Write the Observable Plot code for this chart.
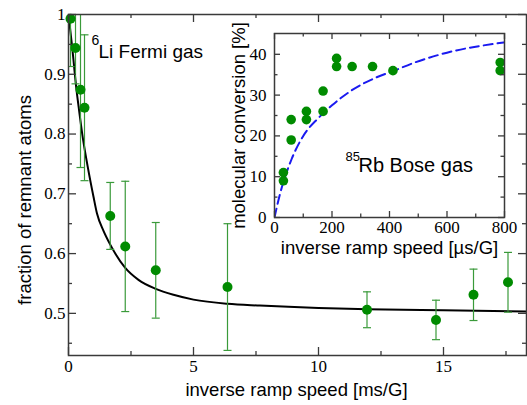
<!DOCTYPE html>
<html><head><meta charset="utf-8">
<script src="https://cdn.jsdelivr.net/npm/d3@7"></script>
<script src="https://cdn.jsdelivr.net/npm/@observablehq/plot@0.6"></script>
<style>
body{margin:0;background:#fff}
#wrap{position:relative;width:527px;height:405px}
#inset{position:absolute;left:220px;top:0}
</style>
</head><body>
<div id="wrap"><div id="main"></div><div id="inset"></div></div>
<script>
// ---- 6Li Fermi gas: fraction of remnant atoms vs inverse ramp speed [ms/G]
const liX   = [0.08, 0.28, 0.48, 0.64, 1.67, 2.27, 3.49, 6.36, 11.94, 14.7, 16.2, 17.58];
const liY   = [0.993, 0.944, 0.874, 0.844, 0.663, 0.612, 0.572, 0.544, 0.506, 0.489, 0.531, 0.552];
const liErr = [0.08, 0.06, 0.13, 0.122, 0.056, 0.109, 0.08, 0.106, 0.03, 0.033, 0.043, 0.05];
// fitted curve (black)
const fitX = [0, 0.15, 0.32, 0.41, 0.55, 0.77, 1.0, 1.14, 1.4, 1.67, 2.27, 2.8, 3.49, 4.2, 5.0, 6.36, 7.65, 10, 11.94, 15, 18.33];
const fitY = [1.0, 0.944, 0.874, 0.844, 0.80, 0.745, 0.695, 0.667, 0.638, 0.615, 0.576, 0.556, 0.541, 0.531, 0.523, 0.516, 0.513, 0.509, 0.507, 0.505, 0.503];

// ---- 85Rb Bose gas (inset): molecular conversion [%] vs inverse ramp speed [us/G]
const rbX = [31, 31, 58, 58, 111, 111, 169, 169, 216, 216, 270, 341, 412, 785, 785];
const rbY = [11, 9, 24, 19, 26, 24, 31, 26, 39, 37, 37, 37, 36, 38, 36];
// dashed theory curve (blue)
const rbFitX = [0, 20, 31, 60, 101, 153, 200, 269, 350, 420, 484, 600, 797];
const rbFitY = [0, 6.0, 8.7, 14.4, 20.1, 24.4, 27.5, 31.2, 34.2, 36.1, 37.9, 40.4, 42.9];

// ticks
const xMajor = [0, 5, 10, 15];
const xMinor = [2.5, 7.5, 12.5, 17.5];
const yMajor = [0.5, 0.6, 0.7, 0.8, 0.9, 1];
const yMinor = [0.45, 0.55, 0.65, 0.75, 0.85, 0.95];
const ixMajor = [0, 200, 400, 600, 800];
const ixMinor = [100, 300, 500, 700];
const iyMajor = [0, 10, 20, 30, 40];
const iyMinor = [5, 15, 25, 35];

const axisColor = "#3a3a3a";
const green = "#008b00", errGreen = "#3a9a3a", blue = "#1a1af0";
const sans = "Liberation Sans", serif = "Liberation Serif";
const capSymbol = {draw(ctx, size) { const r = Math.sqrt(size / Math.PI); ctx.moveTo(-r, 0); ctx.lineTo(r, 0); }};

const li = liX.map((x, i) => ({x, y: liY[i], e: liErr[i]}));
const liFit = fitX.map((x, i) => ({x, y: fitY[i]}));
const rb = rbX.map((x, i) => ({x, y: rbY[i]}));
const rbFit = rbFitX.map((x, i) => ({x, y: rbFitY[i]}));

const mW = 527, mH = 405, mL = 68, mR = 1, mT = 14, mB = 50;
const fW = mW - mL - mR, fH = mH - mT - mB;
const tk = {stroke: axisColor, strokeWidth: 1.3};

const main = Plot.plot({
  width: mW, height: mH, marginLeft: mL, marginRight: mR, marginTop: mT, marginBottom: mB,
  x: {domain: [0, 18.32]},
  y: {domain: [0.4295, 1.0]},
  style: {fontFamily: serif, fontSize: "17px", background: "white", color: "black"},
  marks: [
    Plot.line(liFit, {x: "x", y: "y", stroke: "black", strokeWidth: 2, curve: "monotone-x", clip: true}),
    Plot.ruleX(li, {x: "x", y1: d => d.y - d.e, y2: d => d.y + d.e, stroke: errGreen, strokeWidth: 1.2, clip: true}),
    Plot.dot(li, {x: "x", y: d => d.y + d.e, r: 4, symbol: capSymbol, fill: "none", stroke: errGreen, strokeWidth: 1.2, clip: true}),
    Plot.dot(li, {x: "x", y: d => d.y - d.e, r: 4, symbol: capSymbol, fill: "none", stroke: errGreen, strokeWidth: 1.2, clip: true}),
    Plot.dot(li, {x: "x", y: "y", r: 5, fill: green}),
    Plot.tickX(xMajor, {x: d => d, insetTop: fH - 8, ...tk}),
    Plot.tickX(xMajor, {x: d => d, insetBottom: fH - 8, ...tk}),
    Plot.tickX(xMinor, {x: d => d, insetTop: fH - 4, ...tk}),
    Plot.tickX(xMinor, {x: d => d, insetBottom: fH - 4, ...tk}),
    Plot.tickY(yMajor, {y: d => d, insetRight: fW - 8, ...tk}),
    Plot.tickY(yMajor, {y: d => d, insetLeft: fW - 8, ...tk}),
    Plot.tickY(yMinor, {y: d => d, insetRight: fW - 4, ...tk}),
    Plot.tickY(yMinor, {y: d => d, insetLeft: fW - 4, ...tk}),
    Plot.frame({stroke: axisColor, strokeWidth: 1.5}),
    Plot.axisX({ticks: xMajor, tickSize: 0, tickPadding: 4, tickFormat: d => String(d), label: null, fontSize: 17}),
    Plot.axisY({ticks: yMajor, tickSize: 0, tickPadding: 3, tickFormat: d => String(d), label: null, fontSize: 17}),
    Plot.text(["inverse ramp speed [ms/G]"], {text: d => d, frameAnchor: "bottom", dx: -1, dy: 40, textAnchor: "middle", lineAnchor: "bottom", fontFamily: sans, fontSize: 18.5}),
    Plot.text(["fraction of remnant atoms"], {text: d => d, frameAnchor: "left", dx: -38, dy: 15, rotate: -90, textAnchor: "middle", lineAnchor: "bottom", fontFamily: sans, fontSize: 18.5}),
    Plot.text(["6"], {text: d => d, frameAnchor: "top-left", dx: 23, dy: 30, textAnchor: "start", lineAnchor: "bottom", fontFamily: sans, fontSize: 14}),
    Plot.text(["Li Fermi gas"], {text: d => d, frameAnchor: "top-left", dx: 30, dy: 43, textAnchor: "start", lineAnchor: "bottom", fontFamily: sans, fontSize: 19})
  ]
});
document.getElementById("main").appendChild(main);

const iW = 307, iH = 265, iL = 54, iR = 23, iT = 33, iB = 48;
const ifW = iW - iL - iR, ifH = iH - iT - iB;
const inset = Plot.plot({
  width: iW, height: iH, marginLeft: iL, marginRight: iR, marginTop: iT, marginBottom: iB,
  x: {domain: [0, 800]},
  y: {domain: [0, 45.1]},
  style: {fontFamily: serif, fontSize: "17px", background: "transparent", overflow: "visible", color: "black"},
  marks: [
    Plot.line(rbFit, {x: "x", y: "y", stroke: blue, strokeWidth: 2, strokeDasharray: "9,5", curve: "monotone-x", clip: true}),
    Plot.dot(rb, {x: "x", y: "y", r: 4.8, fill: green}),
    Plot.tickX(ixMajor, {x: d => d, insetTop: ifH - 6, ...tk}),
    Plot.tickX(ixMajor, {x: d => d, insetBottom: ifH - 6, ...tk}),
    Plot.tickX(ixMinor, {x: d => d, insetTop: ifH - 3.5, ...tk}),
    Plot.tickX(ixMinor, {x: d => d, insetBottom: ifH - 3.5, ...tk}),
    Plot.tickY(iyMajor, {y: d => d, insetRight: ifW - 6, ...tk}),
    Plot.tickY(iyMajor, {y: d => d, insetLeft: ifW - 6, ...tk}),
    Plot.tickY(iyMinor, {y: d => d, insetRight: ifW - 3.5, ...tk}),
    Plot.tickY(iyMinor, {y: d => d, insetLeft: ifW - 3.5, ...tk}),
    Plot.frame({stroke: axisColor, strokeWidth: 1.5}),
    Plot.axisX({ticks: ixMajor, tickSize: 0, tickPadding: 3.5, tickFormat: d => String(d), label: null, fontSize: 17}),
    Plot.axisY({ticks: iyMajor, tickSize: 0, tickPadding: 8, tickFormat: d => String(d), label: null, fontSize: 17}),
    Plot.text(["inverse ramp speed [µs/G]"], {text: d => d, frameAnchor: "bottom", dy: 36, textAnchor: "middle", lineAnchor: "bottom", fontFamily: sans, fontSize: 18.5}),
    Plot.text(["molecular conversion [%]"], {text: d => d, frameAnchor: "left", dx: -30, rotate: -90, textAnchor: "middle", lineAnchor: "bottom", fontFamily: sans, fontSize: 18.5}),
    Plot.text(["85"], {text: d => d, frameAnchor: "top-left", dx: 71, dy: 127, textAnchor: "start", lineAnchor: "bottom", fontFamily: sans, fontSize: 13}),
    Plot.text(["Rb Bose gas"], {text: d => d, frameAnchor: "top-left", dx: 84, dy: 138, textAnchor: "start", lineAnchor: "bottom", fontFamily: sans, fontSize: 20})
  ]
});
document.getElementById("inset").appendChild(inset);
</script>
</body></html>
